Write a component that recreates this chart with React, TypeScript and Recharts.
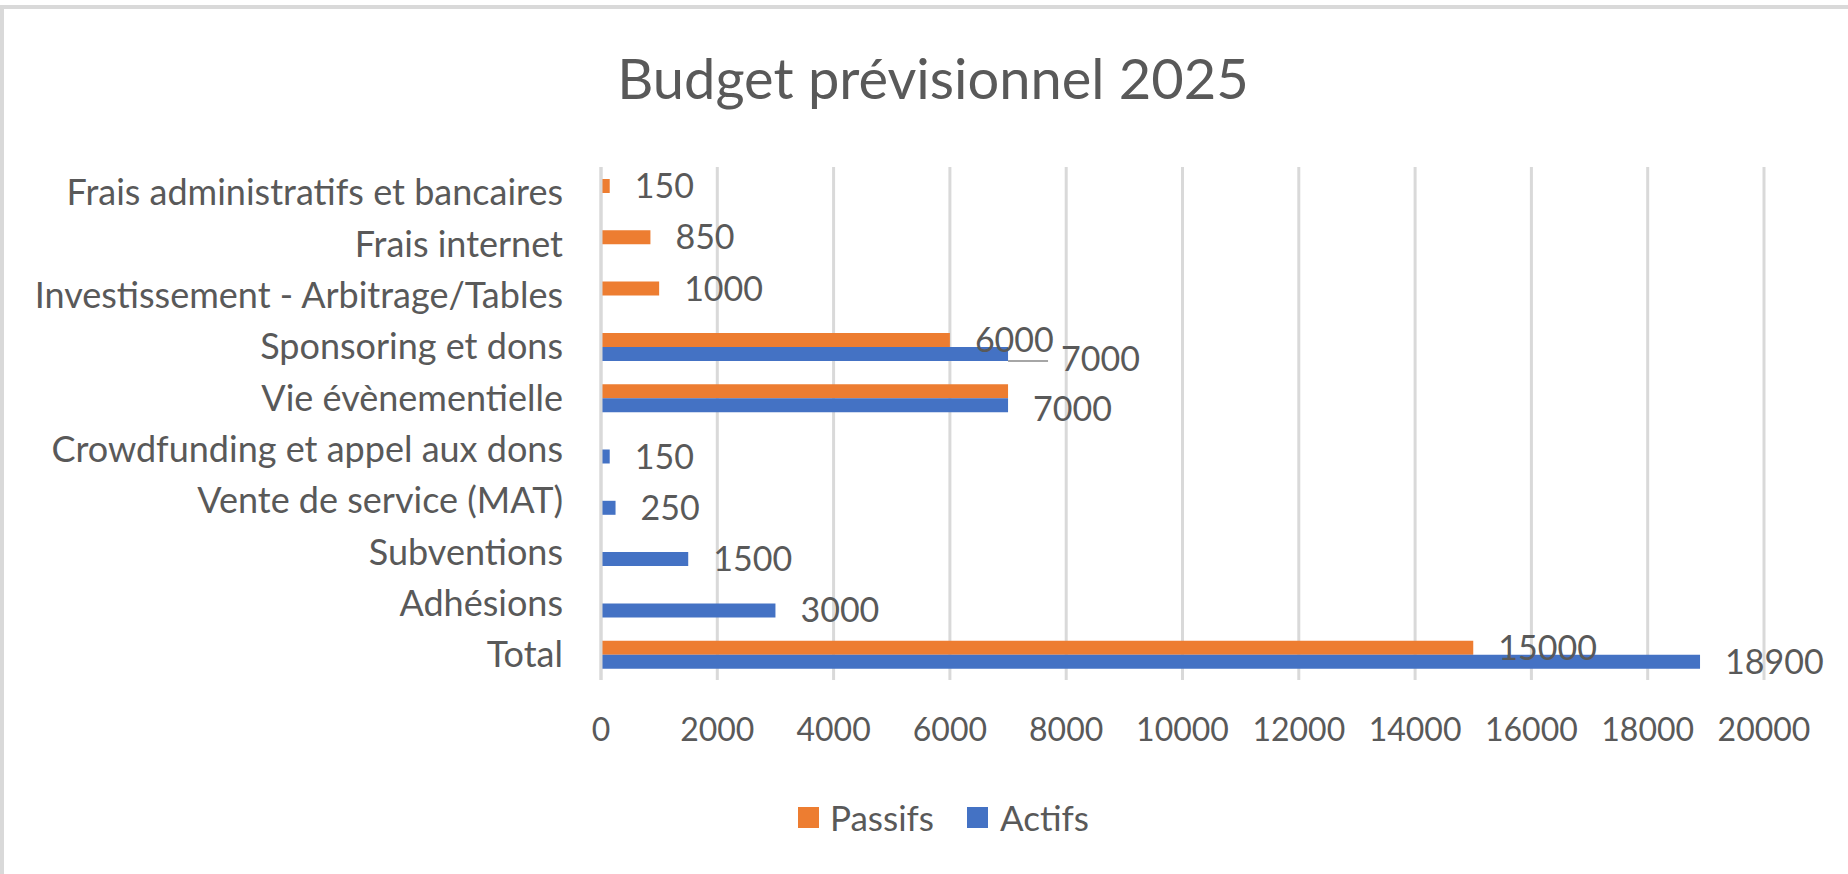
import { BarChart, Bar, XAxis, YAxis, CartesianGrid, Legend, LabelList } from 'recharts';

const categories = [
  'Frais administratifs et bancaires',
  'Frais internet',
  'Investissement - Arbitrage/Tables',
  'Sponsoring et dons',
  'Vie évènementielle',
  'Crowdfunding et appel aux dons',
  'Vente de service (MAT)',
  'Subventions',
  'Adhésions',
  'Total',
];
const passifs = [150, 850, 1000, 6000, 7000, null, null, null, null, 15000];
const actifs = [null, null, null, 7000, 7000, 150, 250, 1500, 3000, 18900];
const xTicks = [0, 2000, 4000, 6000, 8000, 10000, 12000, 14000, 16000, 18000, 20000];

const data = categories.map((name, i) => ({ name, passifs: passifs[i], actifs: actifs[i] }));

const FONT = 'Lato, "Open Sans", sans-serif';
const TEXT = '#595959';
const ORANGE = '#ED7D31';
const BLUE = '#4472C4';

// labels that were dragged by hand in the original sheet
const labelNudge: Record<string, { dx: number; dy: number; hide?: boolean; leader?: boolean }> = {
  'actifs|Sponsoring et dons': { dx: 28, dy: 5, leader: true },
  'actifs|Vie évènementielle': { dx: 0, dy: 4 },
  'passifs|Vie évènementielle': { dx: 0, dy: 0, hide: true },
};

const makeLabel = (series: 'passifs' | 'actifs', values: (number | null)[]) => {
  // recharts skips empty bars, so map the label index back to its category
  const shown = categories.filter((_, i) => values[i] != null);
  return (props: any) => {
    const { x, y, width, height, value, index } = props;
    if (value == null) return null;
    const name = props.payload?.name ?? shown[index];
    const nudge = labelNudge[`${series}|${name}`] || { dx: 0, dy: 0 };
    if (nudge.hide) return null;
    const endX = x + width;
    const lx = endX + 25 + nudge.dx;
    const ly = y + height / 2 + nudge.dy;
    return (
      <g>
        {nudge.leader && (
          <line x1={endX} y1={ly + 2} x2={lx - 13} y2={ly + 2} stroke="#a6a6a6" strokeWidth={2} />
        )}
        <text x={lx} y={ly} dy="0.355em" fill={TEXT} fontSize={34} fontFamily={FONT}>
          {value}
        </text>
      </g>
    );
  };
};

const CategoryTick = ({ x, y, payload }: any) => (
  <text x={x} y={y} dy="0.355em" textAnchor="end" fill={TEXT} fontSize={36} fontFamily={FONT}>
    {payload.value}
  </text>
);

const renderLegend = () => (
  <div style={{ display: 'flex', alignItems: 'center', fontFamily: FONT, fontSize: 35, lineHeight: '36px', color: TEXT }}>
    <span style={{ width: 21, height: 21, background: ORANGE, marginRight: 11 }} />
    <span style={{ marginRight: 33 }}>Passifs</span>
    <span style={{ width: 21, height: 21, background: BLUE, marginRight: 12 }} />
    <span>Actifs</span>
  </div>
);

export default function App() {
  return (
    <div style={{ position: 'absolute', left: 0, top: 0, width: 1848, height: 874, background: '#fff', overflow: 'hidden' }}>
      <div
        style={{
          position: 'absolute', left: 0, top: 5, width: 1848, height: 869,
          borderTop: '4px solid #d9d9d9', borderLeft: '4px solid #d9d9d9', boxSizing: 'border-box',
        }}
      />
      <div
        style={{
          position: 'absolute', left: 933, top: 50, transform: 'translateX(-50%)', whiteSpace: 'nowrap',
          fontFamily: FONT, fontSize: 56, lineHeight: '56px', color: TEXT,
        }}
      >
        Budget prévisionnel 2025
      </div>
      <div style={{ position: 'absolute', left: 0, top: 0 }}>
        <BarChart
          width={1848}
          height={874}
          data={data}
          layout="vertical"
          margin={{ top: 167, right: 84, bottom: 114, left: 0 }}
          barGap={0}
        >
          <CartesianGrid horizontal={false} stroke="#d9d9d9" strokeWidth={3} />
          <XAxis
            type="number"
            domain={[0, 20000]}
            ticks={xTicks}
            height={80}
            axisLine={false}
            tickLine={false}
            tickSize={0}
            tickMargin={38}
            tick={{ fill: TEXT, fontSize: 32, fontFamily: FONT }}
            interval={0}
          />
          <YAxis
            type="category"
            dataKey="name"
            width={601}
            tickLine={false}
            tickSize={0}
            tickMargin={38}
            axisLine={{ stroke: '#d9d9d9', strokeWidth: 3 }}
            tick={<CategoryTick />}
            interval={0}
          />
          <Legend
            layout="horizontal"
            verticalAlign="middle"
            wrapperStyle={{ left: 798, top: 799, width: 'auto' }}
            content={renderLegend}
          />
          <Bar dataKey="passifs" name="Passifs" fill={ORANGE} barSize={14} isAnimationActive={false}>
            <LabelList dataKey="passifs" content={makeLabel('passifs', passifs)} />
          </Bar>
          <Bar dataKey="actifs" name="Actifs" fill={BLUE} barSize={14} isAnimationActive={false}>
            <LabelList dataKey="actifs" content={makeLabel('actifs', actifs)} />
          </Bar>
        </BarChart>
      </div>
    </div>
  );
}
